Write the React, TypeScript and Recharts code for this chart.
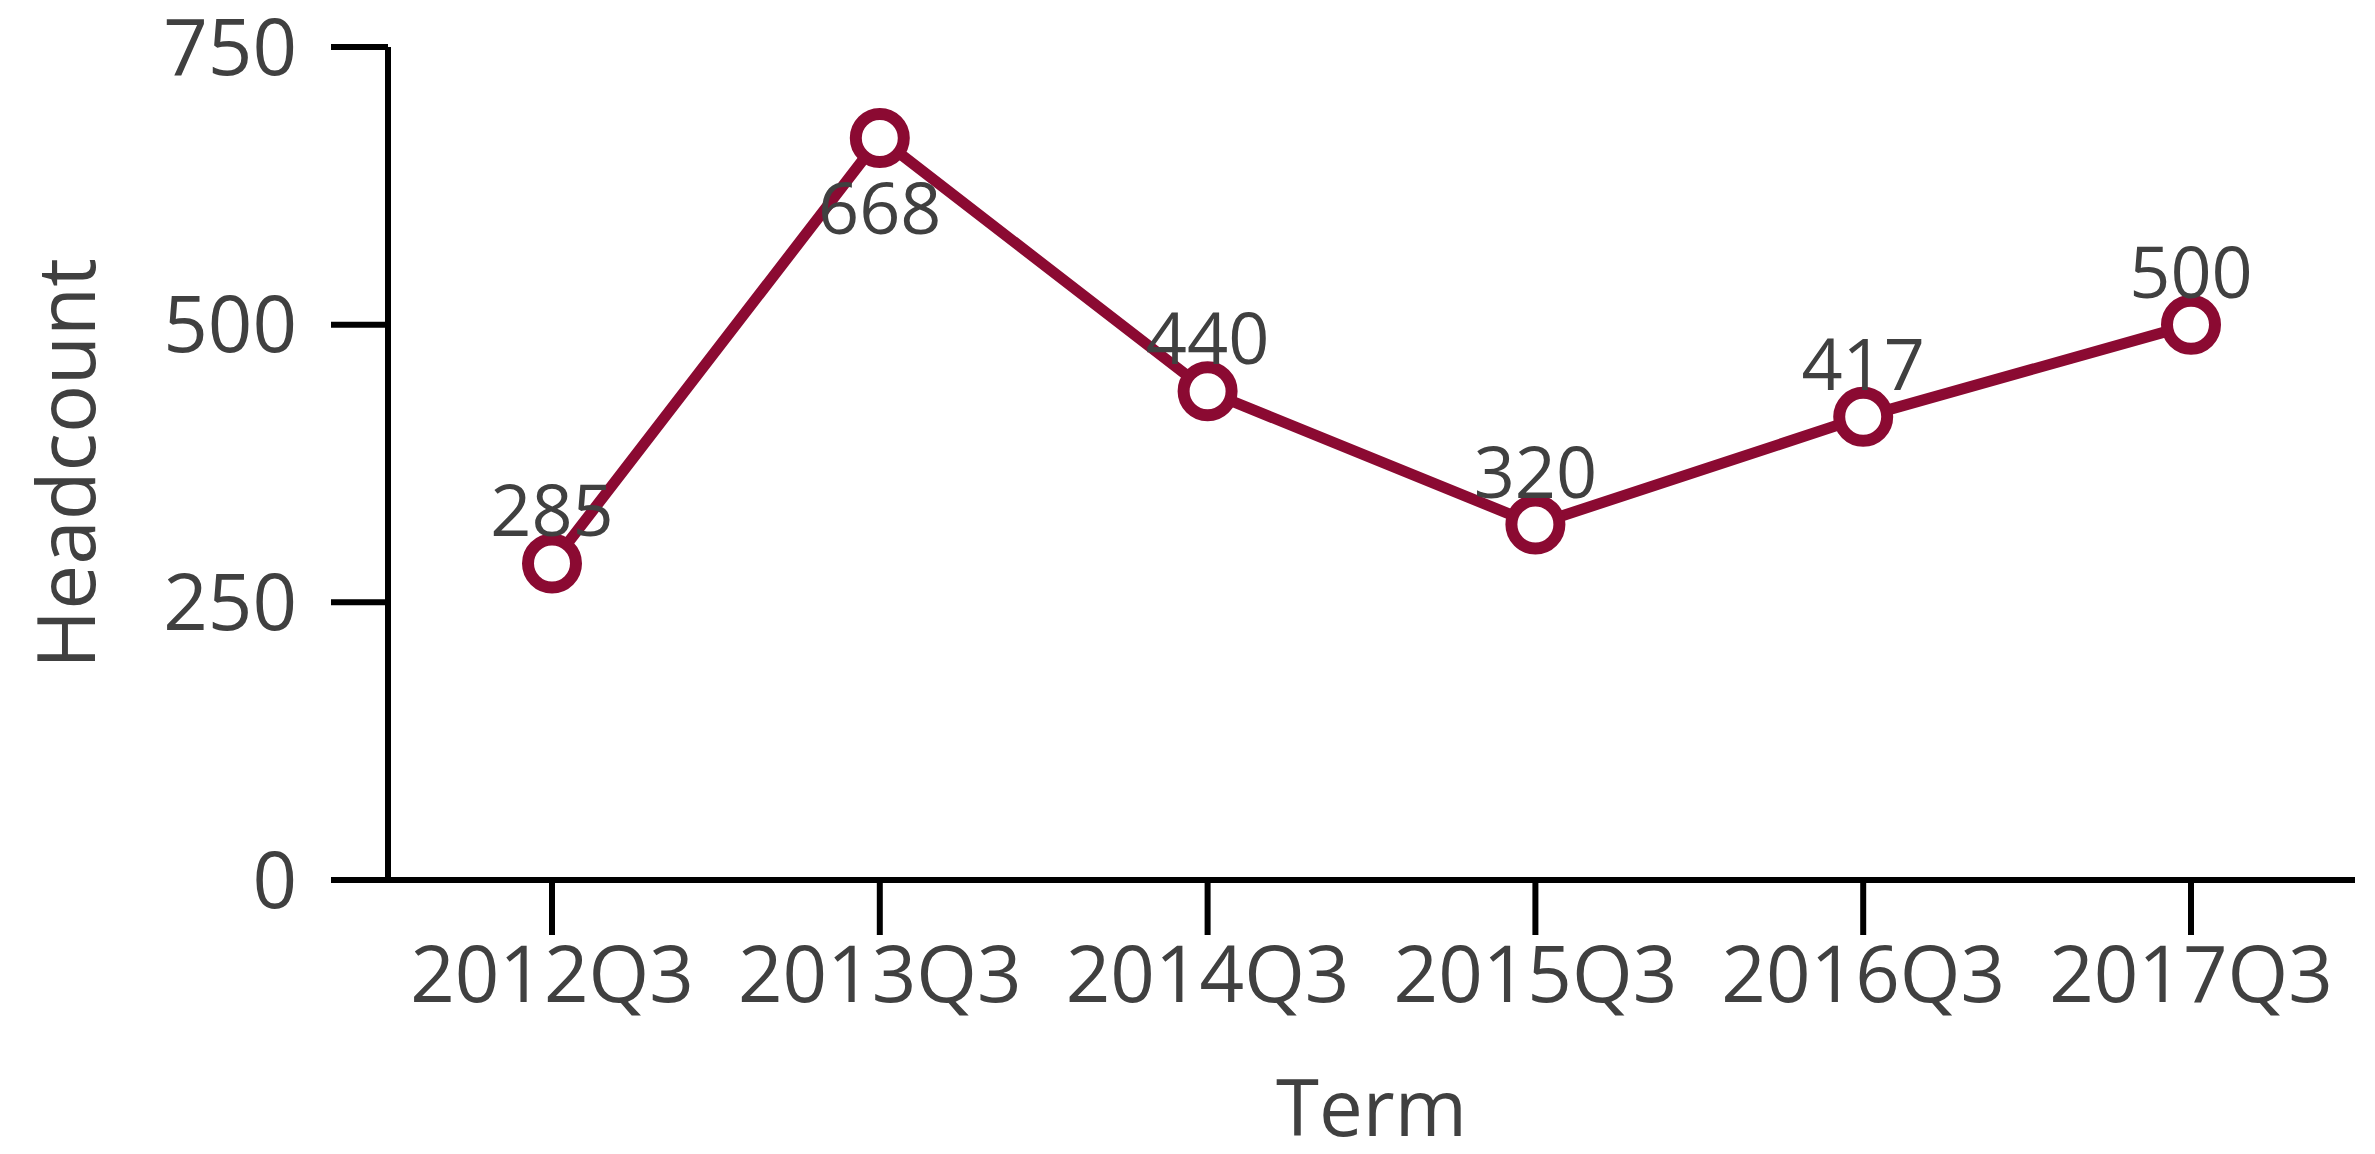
import React from "react";
import {
  LineChart,
  Line,
  XAxis,
  YAxis,
  LabelList,
} from "recharts";

const terms = ["2012Q3", "2013Q3", "2014Q3", "2015Q3", "2016Q3", "2017Q3"];
const headcount = [285, 668, 440, 320, 417, 500];
const yTicks = [0, 250, 500, 750];

const data = terms.map((term, i) => ({ term, headcount: headcount[i] }));
const peak = Math.max(...headcount);

const LINE = "#8b0a32";
const TEXT = "#404040";
const FONT = "'Open Sans', sans-serif";

function PointLabel(props: any) {
  const { x, y, value } = props;
  // the peak gets its label under the point, the rest sit above
  const below = value === peak;
  return (
    <text
      x={x}
      y={below ? y + 96 : y - 27}
      textAnchor="middle"
      fill={TEXT}
      fontSize={72}
      fontFamily={FONT}
    >
      {value}
    </text>
  );
}

export default function App() {
  return (
    <div style={{ position: "absolute", left: 0, top: 0, width: 2375, height: 1154, background: "#fff" }}>
      <LineChart
        width={2375}
        height={1154}
        data={data}
        margin={{ top: 47, right: 20, bottom: 0, left: 0 }}
        style={{ fontFamily: FONT }}
      >
        <XAxis
          dataKey="term"
          height={274}
          padding={{ left: 164, right: 164 }}
          axisLine={{ stroke: "#000", strokeWidth: 6 }}
          tickLine={{ stroke: "#000", strokeWidth: 6 }}
          tickSize={55}
          tickMargin={12}
          tick={{ fill: TEXT, fontSize: 78 }}
          label={{ value: "Term", position: "insideBottom", offset: 18, fill: TEXT, fontSize: 78 }}
        />
        <YAxis
          width={388}
          domain={[0, 750]}
          ticks={yTicks}
          axisLine={{ stroke: "#000", strokeWidth: 6 }}
          tickLine={{ stroke: "#000", strokeWidth: 6 }}
          tickSize={57}
          tickMargin={34}
          tick={{ fill: TEXT, fontSize: 78 }}
          label={{ value: "Headcount", angle: -90, position: "center", dx: -127, fill: TEXT, fontSize: 80 }}
        />
        <Line
          type="linear"
          dataKey="headcount"
          stroke={LINE}
          strokeWidth={11}
          dot={{ r: 24, fill: "#fff", stroke: LINE, strokeWidth: 12 }}
          activeDot={false}
          isAnimationActive={false}
        >
          <LabelList dataKey="headcount" content={PointLabel} />
        </Line>
      </LineChart>
    </div>
  );
}
